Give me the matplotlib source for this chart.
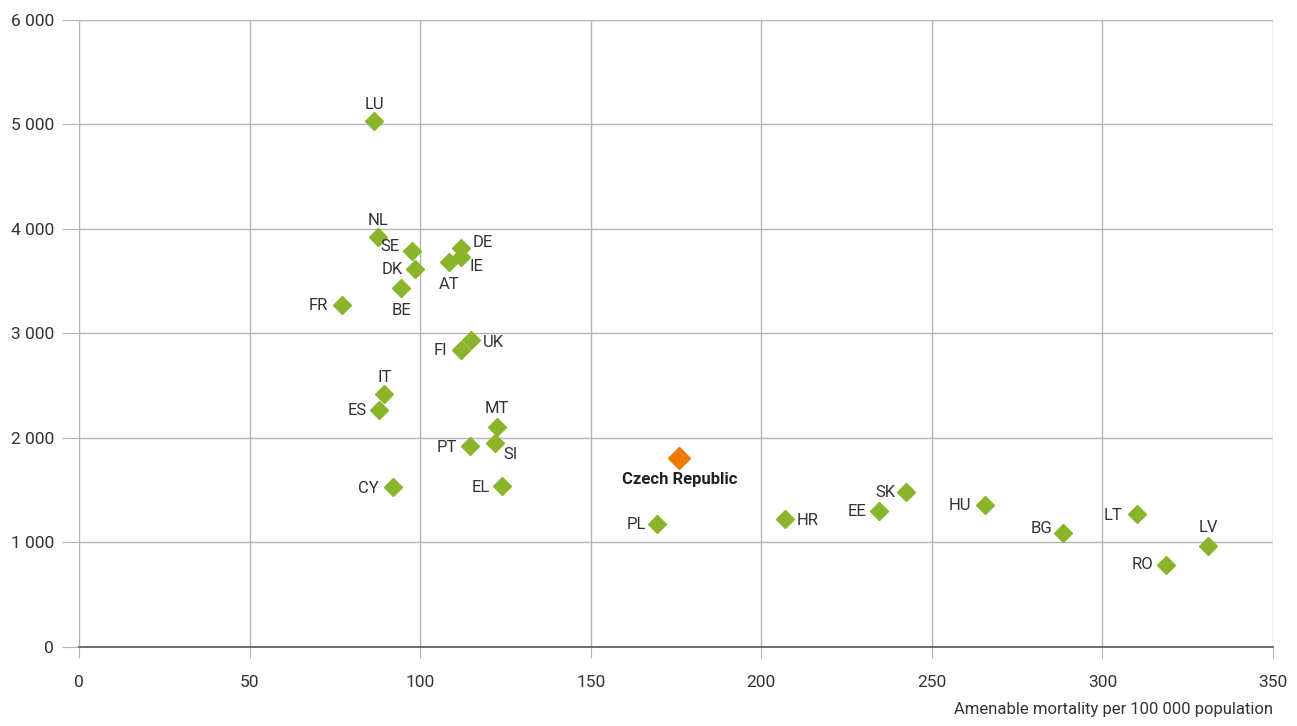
import matplotlib.pyplot as plt
from matplotlib.ticker import FuncFormatter

# country codes, amenable mortality (x) and second indicator (y)
countries = ['LU', 'NL', 'SE', 'DE', 'IE', 'AT', 'DK', 'BE', 'FR', 'UK', 'FI',
             'IT', 'ES', 'MT', 'PT', 'SI', 'CY', 'EL', 'PL', 'HR', 'EE', 'SK',
             'HU', 'LT', 'BG', 'LV', 'RO']
mortality = [86.5, 87.5, 97.5, 112, 112, 108.5, 98.5, 94.5, 77, 115, 112,
             89.5, 88, 122.5, 114.5, 122, 92, 124, 169.5, 207, 234.5, 242.5,
             265.5, 310, 288.5, 331, 318.5]
spending = [5030, 3920, 3790, 3815, 3730, 3685, 3615, 3430, 3270, 2935, 2840,
            2420, 2265, 2105, 1925, 1950, 1530, 1535, 1175, 1225, 1300, 1480,
            1355, 1270, 1090, 965, 785]
cz_name = 'Czech Republic'
cz_mortality = 176
cz_spending = 1805

# label offsets in points (dx, dy, ha)
offsets = {
    'LU': (0, 12, 'center'), 'NL': (0, 12, 'center'), 'SE': (-9, 3, 'right'),
    'DE': (8, 4, 'left'), 'IE': (6, -7, 'left'), 'AT': (0, -16, 'center'),
    'DK': (-9, 0, 'right'), 'BE': (0, -16, 'center'), 'FR': (-10, 0, 'right'),
    'UK': (8, -2, 'left'), 'FI': (-10, 0, 'right'), 'IT': (0, 12, 'center'),
    'ES': (-9, 0, 'right'), 'MT': (0, 13, 'center'), 'PT': (-9, -1, 'right'),
    'SI': (6, -8, 'left'), 'CY': (-10, -1, 'right'), 'EL': (-9, -1, 'right'),
    'PL': (-8, 0, 'right'), 'HR': (8, -1, 'left'), 'EE': (-9, 0, 'right'),
    'SK': (-8, 0, 'right'), 'HU': (-10, 0, 'right'), 'LT': (-10, -1, 'right'),
    'BG': (-8, 3, 'right'), 'LV': (0, 13, 'center'), 'RO': (-9, 0, 'right'),
}

plt.rcParams['font.family'] = ['Roboto', 'DejaVu Sans']

fig = plt.figure(figsize=(12.97, 7.26), dpi=100)
ax = fig.add_axes([0.061, 0.109, 0.9205, 0.8635])

ax.plot(mortality, spending, linestyle='none', marker='D', markersize=9.5,
        color='#8ab52a', zorder=3)
ax.plot([cz_mortality], [cz_spending], linestyle='none', marker='D',
        markersize=11, color='#ec7a08', zorder=3)

for c, x, y in zip(countries, mortality, spending):
    dx, dy, ha = offsets[c]
    ax.annotate(c, (x, y), xytext=(dx, dy), textcoords='offset points',
                ha=ha, va='center', fontsize=12, color='#333333')
ax.annotate(cz_name, (cz_mortality, cz_spending), xytext=(0, -15),
            textcoords='offset points', ha='center', va='center',
            fontsize=12, fontweight='bold', color='#222222')

ax.set_xlim(0, 350)
ax.set_ylim(0, 6000)
ax.set_xticks(range(0, 351, 50))
ax.set_yticks(range(0, 6001, 1000))
ax.yaxis.set_major_formatter(FuncFormatter(lambda v, p: f'{int(v):,}'.replace(',', ' ')))
ax.grid(True, color='#b4b4b4', linewidth=1)
ax.set_axisbelow(True)
for s in ['top', 'right', 'left']:
    ax.spines[s].set_visible(False)
ax.spines['bottom'].set_color('#555555')
ax.spines['bottom'].set_linewidth(1.2)
ax.tick_params(axis='y', length=12, color='#b4b4b4', labelsize=12.5,
               labelcolor='#333333', pad=6)
ax.tick_params(axis='x', length=8, color='#b4b4b4', labelsize=12.5,
               labelcolor='#333333', pad=12)

fig.text(0.9815, 0.0125, 'Amenable mortality per 100 000 population',
         ha='right', va='bottom', fontsize=12, color='#333333')

fig.savefig('out.png', dpi=100)
